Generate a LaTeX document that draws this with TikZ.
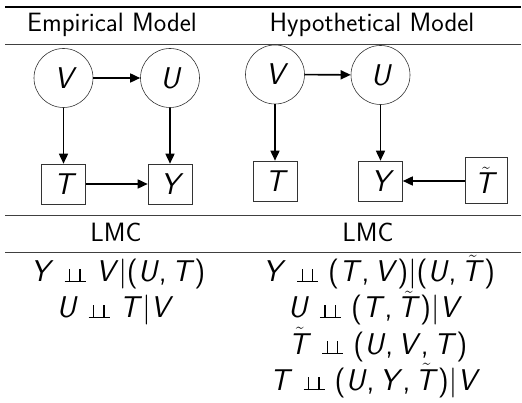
\documentclass[tikz,border=0pt]{standalone}
\usetikzlibrary{arrows.meta}

% variables in slanted sans with italic correction, as in sans math
\newcommand\vv[1]{{\slshape #1\/}}
\newcommand\Tt{$\tilde{\hbox{\slshape T\/}}$}
% independence sign built from rules
\newcommand\indep{\hspace{11pt}\rlap{\rule{21pt}{1.3pt}}\hspace{4.5pt}\rule{1.3pt}{13pt}\hspace{9pt}\rule{1.3pt}{13pt}\hspace{5pt}\hspace{10pt}}

\begin{document}
\begin{tikzpicture}[x=1pt,y=-1pt,
  every node/.style={font=\sffamily},
  heading/.style={font=\sffamily\fontsize{26.5}{30}\selectfont, anchor=base, inner sep=0pt},
  eqline/.style={font=\sffamily\fontsize{30}{36}\selectfont, anchor=base, inner sep=0pt},
  latent/.style={circle, draw=black!80, line width=0.6pt, minimum size=59pt, inner sep=0pt,
                 font=\sffamily\slshape\fontsize{30}{36}\selectfont},
  observed/.style={rectangle, draw=black!80, line width=0.6pt, minimum width=44pt, minimum height=40pt,
                   inner sep=0pt, font=\sffamily\slshape\fontsize{30}{36}\selectfont},
  edge/.style={-{Triangle[length=10pt,width=9pt]}, line width=1.6pt},
  rulethick/.style={line width=1.2pt},
  rulethin/.style={line width=0.8pt, draw=black!75}]
\useasboundingbox (0,0) rectangle (522,403);

% table rules
\draw[rulethick] (5,7) -- (521,7);
\draw[rulethin] (5,44) -- (521,44);
\draw[rulethin] (5,215.5) -- (521,215.5);
\draw[rulethin] (5,252) -- (521,252);

% column headings
\node[heading] (hemp) at (112,32) {Empirical Model};
\node[heading] (hhyp) at (372,32) {Hypothetical Model};

% empirical model graph
\node[latent] (eV) at (63.5,78) {V};
\node[latent] (eU) at (170,78) {U};
\node[observed] (eT) at (63.5,184) {T};
\node[observed] (eY) at (170,184) {Y};
\draw[edge] (eV) -- (eU);
\draw[edge] (eV) -- (eT);
\draw[edge] (eU) -- (eY);
\draw[edge] (eT) -- (eY);

% hypothetical model graph
\node[latent] (hV) at (275,74.5) {V};
\node[latent] (hU) at (380.5,75) {U};
\node[observed] (hT) at (275,181) {T};
\node[observed] (hY) at (380.5,181) {Y};
\node[observed, minimum width=42pt, minimum height=46pt] (hTt) at (486,180) {\Tt};
\draw[edge] (hV) -- (hU);
\draw[edge] (hV) -- (hT);
\draw[edge] (hU) -- (hY);
\draw[edge] (hTt.west |- hY) -- (hY);

% local Markov conditions
\node[heading] (lmcE) at (116,242) {LMC};
\node[heading] (lmcH) at (368,242) {LMC};

\node[eqline] (e1) at (118,282) {\vv{Y}\indep\vv{V}|(\vv{U},\,\vv{T})};
\node[eqline] (e2) at (115,318) {\vv{U}\indep\vv{T}|\vv{V}};

\node[eqline] (h1) at (379,282) {\vv{Y}\indep(\vv{T},\,\vv{V})|(\vv{U},\,\Tt)};
\node[eqline] (h2) at (375,318) {\vv{U}\indep(\vv{T},\,\Tt)|\vv{V}};
\node[eqline] (h3) at (378,354) {\Tt\indep(\vv{U},\,\vv{V},\,\vv{T})};
\node[eqline] (h4) at (375,390) {\vv{T}\indep(\vv{U},\,\vv{Y},\,\Tt)|\vv{V}};
\end{tikzpicture}
\end{document}
